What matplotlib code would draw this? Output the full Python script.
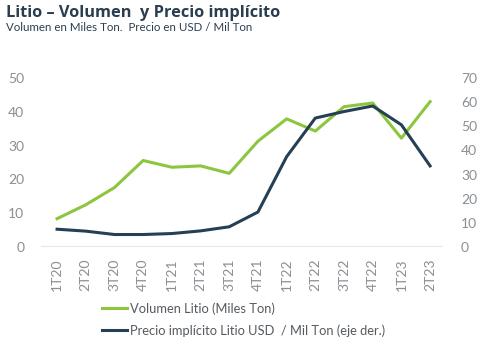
import matplotlib.pyplot as plt

# Data
quarters = ['1T20', '2T20', '3T20', '4T20', '1T21', '2T21', '3T21',
            '4T21', '1T22', '2T22', '3T22', '4T22', '1T23', '2T23']
volumen = [8.4, 12.5, 17.6, 25.6, 23.6, 24.0, 21.8,
           31.3, 37.9, 34.3, 41.5, 42.6, 32.2, 43.0]
precio = [7.4, 6.6, 5.2, 5.2, 5.6, 6.7, 8.4,
          14.5, 37.4, 53.4, 56.1, 58.4, 50.6, 33.6]

green = '#8cc63e'
navy = '#253f55'
gray = '#8a8f94'

plt.rcParams['font.family'] = ['Lato', 'DejaVu Sans']

fig = plt.figure(figsize=(4.82, 3.48), dpi=100)
ax = fig.add_axes([41 / 482, 0.29, 402 / 482, 0.486])
ax2 = ax.twinx()

x = range(len(quarters))
l1, = ax.plot(x, volumen, color=green, lw=2.2, label='Volumen Litio (Miles Ton)')
l2, = ax2.plot(x, precio, color=navy, lw=2.2, label='Precio implícito Litio USD  / Mil Ton (eje der.)')

ax.set_xlim(-0.56, 13.45)
ax.set_ylim(0, 50)
ax2.set_ylim(0, 70)
ax.set_yticks(range(0, 51, 10))
ax2.set_yticks(range(0, 71, 10))
ax.set_xticks(list(x))
ax.set_xticklabels(quarters, rotation=90, fontsize=8.5, color=gray)

for a in (ax, ax2):
    for s in a.spines.values():
        s.set_visible(False)
    a.tick_params(length=0, labelsize=10, colors=gray)
ax.tick_params(axis='y', pad=12)
ax2.tick_params(axis='y', pad=13)
ax.tick_params(axis='x', pad=8)
ax.axhline(0, color='#e6e6e6', lw=1.5, zorder=0)

fig.text(0.012, 0.952, 'Litio – Volumen  y Precio implícito', fontsize=11.8,
         fontweight='bold', color='#2b3e50', family=['Open Sans', 'DejaVu Sans'])
fig.text(0.012, 0.912, 'Volumen en Miles Ton.  Precio en USD / Mil Ton', fontsize=8.3,
         color='#2b3e50')

fig.legend(handles=[l1, l2], loc='upper left', bbox_to_anchor=(0.2, 0.147),
           frameon=False, fontsize=9.3, labelcolor='#555a5f', handlelength=2.0,
           handletextpad=0.2, labelspacing=0.75, borderaxespad=0)

fig.savefig('out.png', dpi=100)
